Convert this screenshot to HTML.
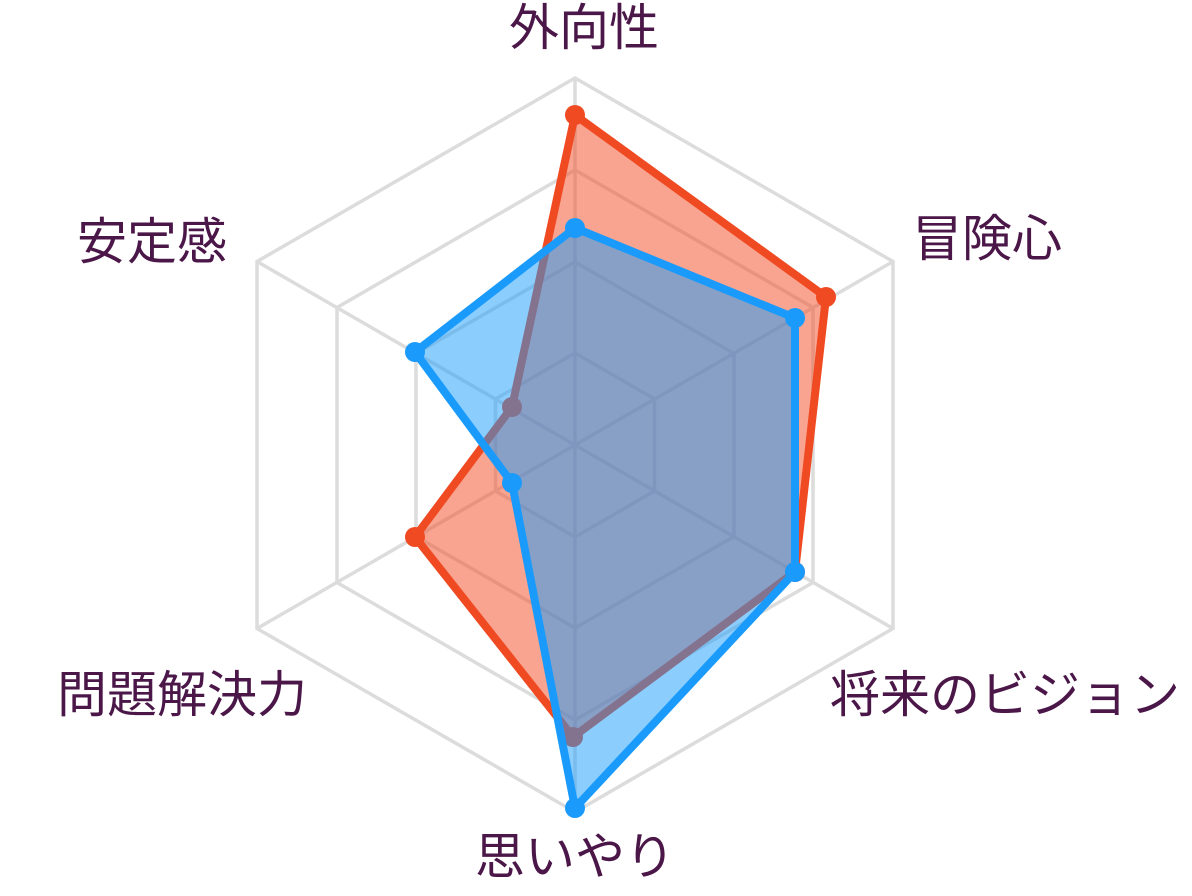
<!DOCTYPE html>
<html><head><meta charset="utf-8"><style>
html,body{margin:0;padding:0;background:#fff;}
svg text{font-family:"Liberation Sans","Noto Sans CJK JP",sans-serif;font-size:50px;fill:#4b1748;}
</style></head><body>
<svg width="1192" height="891" viewBox="0 0 1192 891" xmlns="http://www.w3.org/2000/svg">
<g fill="none" stroke="#dcdcdc" stroke-width="3.5">
<polygon points="575,78 893,261.5 893,628.5 575,812 257,628.5 257,261.5"/>
<polygon points="575,170 813,307.5 813,582.5 575,720 337,582.5 337,307.5"/>
<polygon points="575,262 734,353.5 734,536.5 575,628 416,536.5 416,353.5"/>
<polygon points="575,353 654.5,399 654.5,491 575,537 495.5,491 495.5,399"/>
<line x1="575" y1="445" x2="575" y2="78"/>
<line x1="575" y1="445" x2="893" y2="261.5"/>
<line x1="575" y1="445" x2="893" y2="628.5"/>
<line x1="575" y1="445" x2="575" y2="812"/>
<line x1="575" y1="445" x2="257" y2="628.5"/>
<line x1="575" y1="445" x2="257" y2="261.5"/>
</g>
<g>
<polygon points="575,115 826,297 795,572 573,737 415,537 512,407" fill="rgba(241,74,36,0.5)" stroke="#f04a23" stroke-width="8" stroke-linejoin="round"/>
<g fill="#f04a23">
<circle cx="575" cy="115" r="10"/><circle cx="826" cy="297" r="10"/><circle cx="795" cy="572" r="10"/>
<circle cx="573" cy="737" r="10"/><circle cx="415" cy="537" r="10"/><circle cx="512" cy="407" r="10"/>
</g>
</g>
<g>
<polygon points="575,228 795,318 795,572 575,808 512,483 415,352" fill="rgba(24,155,252,0.5)" stroke="#1a9bfc" stroke-width="8" stroke-linejoin="round"/>
<g fill="#1a9bfc">
<circle cx="575" cy="228" r="10"/><circle cx="795" cy="318" r="10"/><circle cx="795" cy="572" r="10"/>
<circle cx="575" cy="808" r="10"/><circle cx="512" cy="483" r="10"/><circle cx="415" cy="352" r="10"/>
</g>
</g>
<text x="584" y="45" text-anchor="middle">外向性</text>
<text x="912" y="256">冒険心</text>
<text x="227" y="259" text-anchor="end">安定感</text>
<text x="830" y="712">将来のビジョン</text>
<text x="307" y="712" text-anchor="end">問題解決力</text>
<text x="575" y="874" text-anchor="middle">思いやり</text>
</svg>
</body></html>
